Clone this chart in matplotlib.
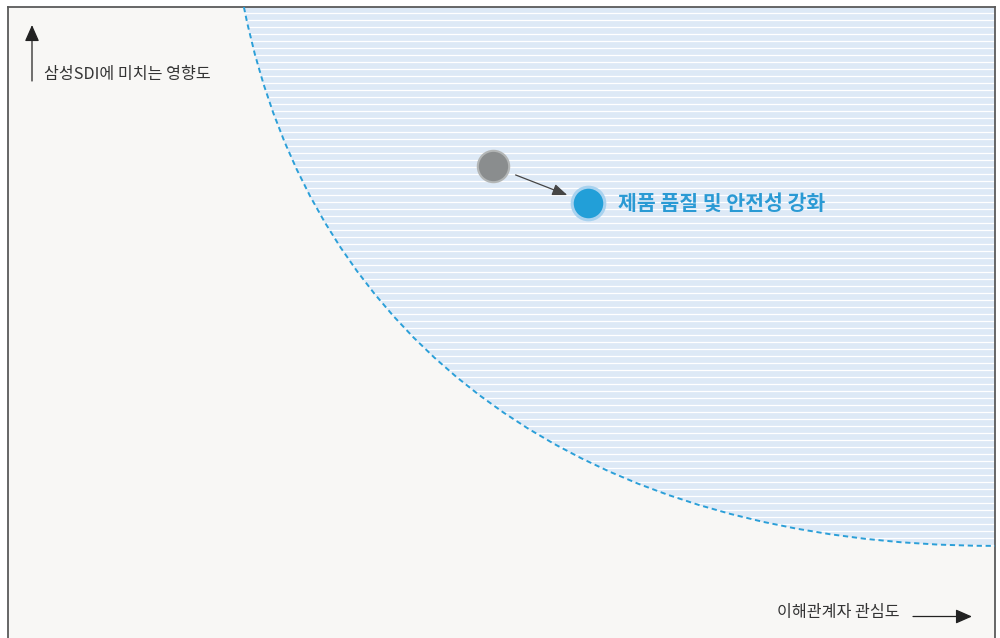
import numpy as np
import matplotlib
matplotlib.use("Agg")
import matplotlib.pyplot as plt
from matplotlib.path import Path
from matplotlib.patches import PathPatch, FancyArrowPatch

plt.rcParams['font.family'] = ['Noto Sans CJK KR', 'DejaVu Sans']

# ---- data (0-100 scale: x = stakeholder interest, y = impact on Samsung SDI) ----
issue_labels = ['제품 품질 및 안전성 강화']
prev_x = [49.1]
prev_y = [74.8]
curr_x = [58.8]
curr_y = [68.9]
y_axis_label = '삼성SDI에 미치는 영향도'
x_axis_label = '이해관계자 관심도'

# boundary of the material-issue zone (cubic bezier control points, 0-100 scale)
zone_x = [23.9, 30.8, 58.5, 100.0]
zone_y = [100.0, 46.1, 14.6, 14.6]

W, H = 1000, 638
fig = plt.figure(figsize=(W / 100, H / 100), dpi=100)
fig.patch.set_facecolor('white')

# plot frame from px x=8..995, y=7..638
ax = fig.add_axes([8 / W, 0, (995 - 8) / W, (H - 7) / H])
ax.set_xlim(0, 100)
ax.set_ylim(0, 100)
ax.set_facecolor('#f8f7f5')
ax.set_xticks([])
ax.set_yticks([])
for s in ['top', 'left', 'right']:
    ax.spines[s].set_color('#5a5a5a')
    ax.spines[s].set_linewidth(1.3)
ax.spines['bottom'].set_visible(False)

# zone fill
verts = list(zip(zone_x, zone_y)) + [(100.0, 100.0), (zone_x[0], zone_y[0])]
codes = [Path.MOVETO, Path.CURVE4, Path.CURVE4, Path.CURVE4, Path.LINETO, Path.CLOSEPOLY]
zone = PathPatch(Path(verts, codes), facecolor='#dde9f6', edgecolor='none', zorder=1)
ax.add_patch(zone)

# white stripes clipped to zone
step = 7 / 631 * 100
ys = np.arange(100 - 1.0, 10, -step)
lines = ax.hlines(ys, 0, 100, colors='white', linewidth=0.9, zorder=2)
lines.set_clip_path(zone)

# dashed boundary
curve = PathPatch(Path(list(zip(zone_x, zone_y)), codes[:4]), facecolor='none',
                  edgecolor='#2b9fd8', linewidth=1.4, linestyle=(0, (2.7, 1.9)), zorder=3)
ax.add_patch(curve)

# movement arrows (previous -> current)
for px, py, cx, cy in zip(prev_x, prev_y, curr_x, curr_y):
    dx, dy = cx - px, cy - py
    ax.annotate('', xy=(cx - 0.22 * dx, cy - 0.22 * dy), xytext=(px + 0.24 * dx, py + 0.24 * dy),
                arrowprops=dict(arrowstyle='-|>,head_length=0.9,head_width=0.35',
                                color='#454545', lw=0.9, shrinkA=0, shrinkB=0),
                zorder=4)

ax.scatter(prev_x, prev_y, s=511, color='#8a8d8e', edgecolors='#b3b6b6', linewidths=1.5, zorder=5)
ax.scatter(curr_x, curr_y, s=551, color='#229fd8', edgecolors='#a8d2ef', linewidths=2.2, zorder=5)

for cx, cy, lab in zip(curr_x, curr_y, issue_labels):
    ax.annotate(lab, xy=(cx, cy), xytext=(21.5, 0), textcoords='offset points',
                ha='left', va='center', fontsize=14.8, fontweight='bold', color='#2a9ad4', zorder=6)

# axis labels with arrows (figure coordinates)
fig.text(44 / W, 1 - 74 / H, y_axis_label, ha='left', va='center', fontsize=11.6, color='#333333')
fig.patches.append(FancyArrowPatch((32 / W, 1 - 81 / H), (32 / W, 1 - 25 / H), transform=fig.transFigure,
                                   arrowstyle='-|>,head_length=5,head_width=2.2', mutation_scale=2,
                                   color='#222222', lw=0.9, shrinkA=0, shrinkB=0))

fig.text(777 / W, 1 - 612 / H, x_axis_label, ha='left', va='center', fontsize=11.6, color='#333333')
fig.patches.append(FancyArrowPatch((913 / W, 1 - 616.5 / H), (972 / W, 1 - 616.5 / H), transform=fig.transFigure,
                                   arrowstyle='-|>,head_length=5,head_width=2.2', mutation_scale=2,
                                   color='#222222', lw=0.9, shrinkA=0, shrinkB=0))

fig.savefig('out.png', dpi=100, facecolor='white')
